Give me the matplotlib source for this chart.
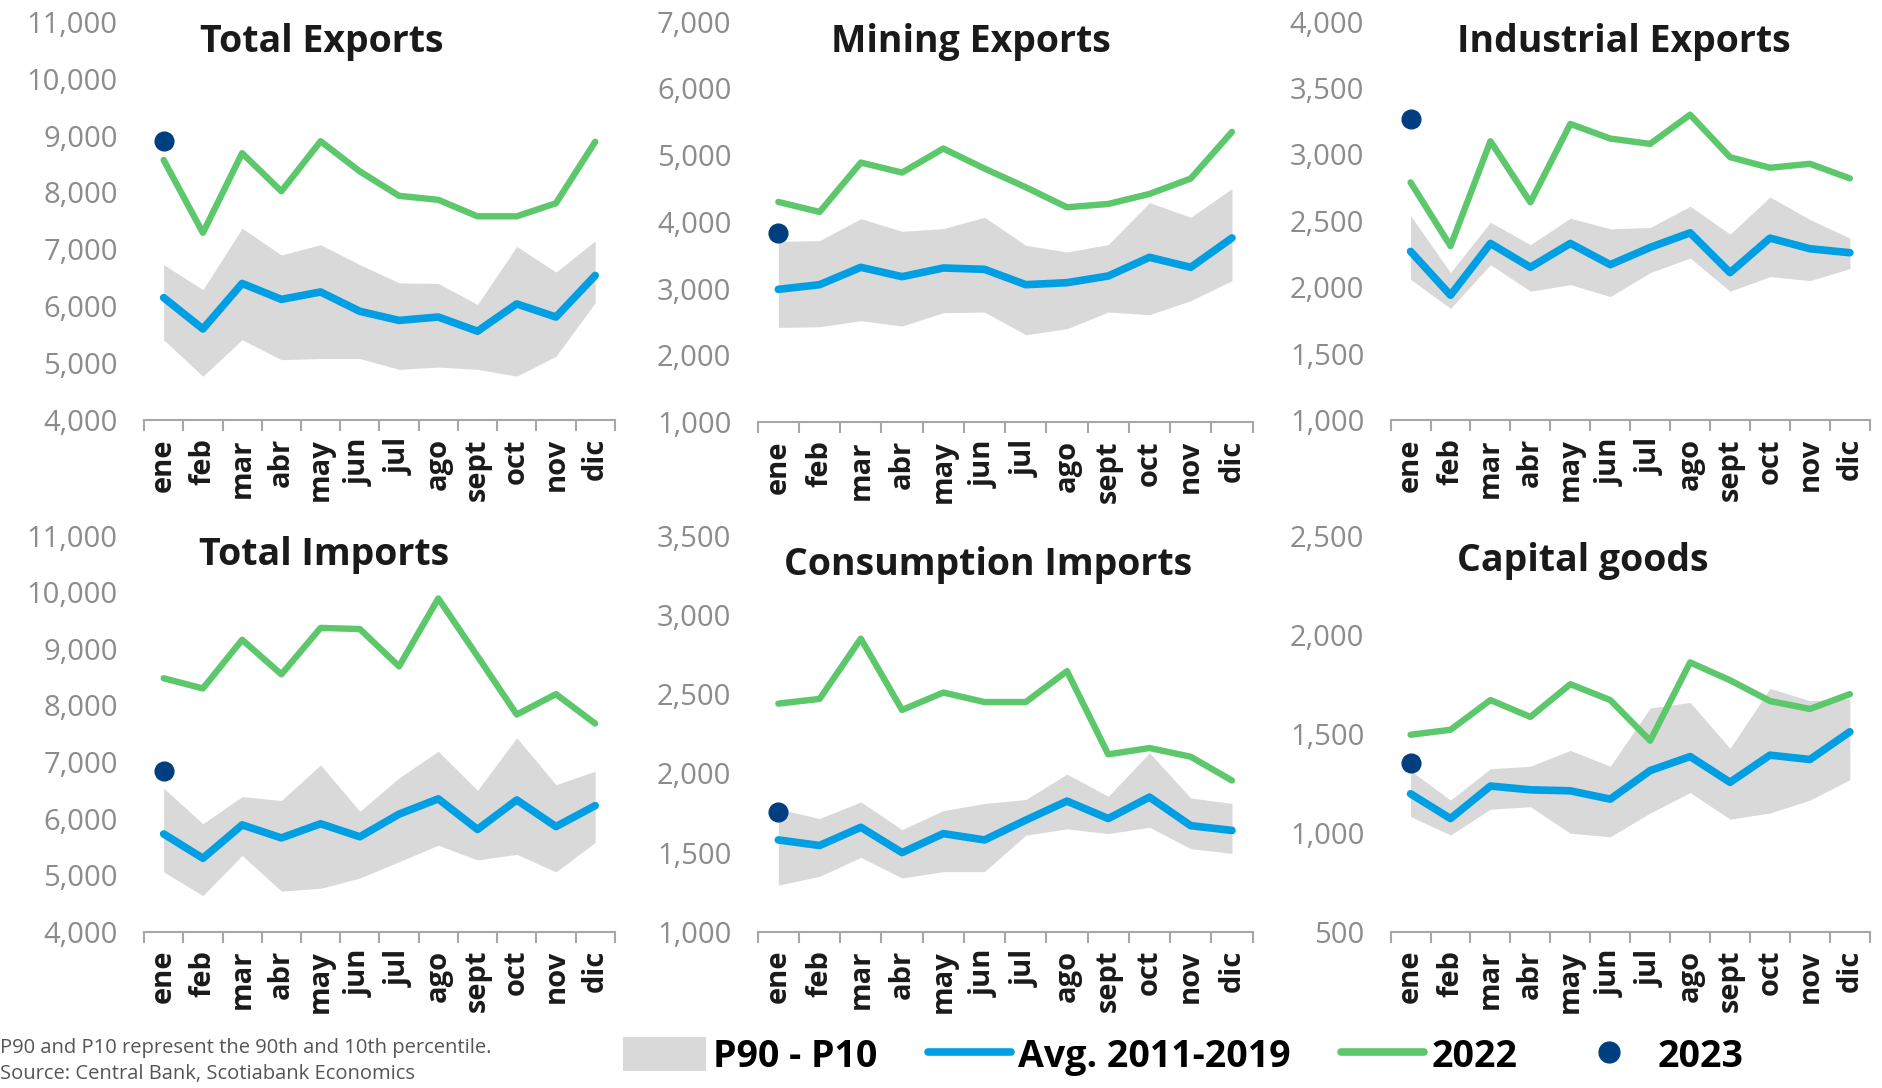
import matplotlib
matplotlib.use("Agg")
import matplotlib.pyplot as plt
from matplotlib.lines import Line2D
from matplotlib.patches import Patch

plt.rcParams['font.family'] = ['Open Sans', 'DejaVu Sans']

months = ['ene', 'feb', 'mar', 'abr', 'may', 'jun', 'jul', 'ago', 'sept', 'oct', 'nov', 'dic']

# Total Exports
tx_2022 = [8570, 7290, 8690, 8020, 8900, 8370, 7940, 7870, 7580, 7580, 7810, 8890]
tx_avg = [6150, 5600, 6400, 6120, 6250, 5910, 5750, 5810, 5560, 6040, 5810, 6540]
tx_p90 = [6730, 6290, 7370, 6900, 7080, 6730, 6410, 6400, 6030, 7050, 6600, 7150]
tx_p10 = [5410, 4770, 5410, 5060, 5080, 5080, 4890, 4930, 4890, 4770, 5120, 6060]
tx_2023 = 8900

# Mining Exports
mx_2022 = [4300, 4150, 4890, 4740, 5100, 4800, 4520, 4220, 4270, 4420, 4650, 5350]
mx_avg = [2990, 3060, 3320, 3180, 3310, 3290, 3060, 3090, 3190, 3470, 3320, 3760]
mx_p90 = [3710, 3720, 4050, 3860, 3900, 4070, 3650, 3550, 3660, 4290, 4070, 4500]
mx_p10 = [2420, 2430, 2520, 2440, 2640, 2650, 2310, 2400, 2650, 2610, 2820, 3120]
mx_2023 = 3840

# Industrial Exports
ix_2022 = [2790, 2310, 3100, 2640, 3230, 3120, 3080, 3300, 2980, 2900, 2930, 2820]
ix_avg = [2270, 1940, 2330, 2150, 2330, 2170, 2300, 2410, 2110, 2370, 2290, 2260]
ix_p90 = [2540, 2110, 2490, 2320, 2520, 2440, 2450, 2610, 2400, 2680, 2510, 2370]
ix_p10 = [2060, 1840, 2170, 1970, 2020, 1930, 2110, 2220, 1970, 2080, 2050, 2140]
ix_2023 = 3265

# Total Imports
tm_2022 = [8480, 8300, 9160, 8550, 9370, 9350, 8690, 9890, 8870, 7840, 8200, 7680]
tm_avg = [5730, 5300, 5890, 5660, 5910, 5680, 6080, 6350, 5810, 6330, 5860, 6230]
tm_p90 = [6540, 5910, 6390, 6320, 6950, 6130, 6720, 7190, 6500, 7430, 6600, 6840]
tm_p10 = [5060, 4640, 5350, 4720, 4770, 4950, 5240, 5530, 5270, 5370, 5060, 5580]
tm_2023 = 6850

# Consumption Imports
cm_2022 = [2440, 2470, 2850, 2400, 2510, 2450, 2450, 2645, 2120, 2160, 2105, 1955]
cm_avg = [1580, 1545, 1660, 1500, 1620, 1580, 1705, 1825, 1715, 1850, 1670, 1640]
cm_p90 = [1775, 1715, 1820, 1645, 1765, 1810, 1835, 1995, 1855, 2130, 1845, 1810]
cm_p10 = [1295, 1350, 1470, 1340, 1380, 1380, 1610, 1650, 1620, 1660, 1525, 1495]
cm_2023 = 1757

# Capital goods
kg_2022 = [1495, 1520, 1670, 1585, 1750, 1670, 1465, 1860, 1770, 1665, 1625, 1700]
kg_avg = [1197, 1072, 1236, 1217, 1212, 1170, 1314, 1385, 1255, 1392, 1370, 1510]
kg_p90 = [1314, 1165, 1323, 1336, 1416, 1336, 1630, 1658, 1426, 1729, 1667, 1677]
kg_p10 = [1082, 989, 1119, 1132, 998, 980, 1100, 1203, 1069, 1100, 1165, 1268]
kg_2023 = 1351

GREEN = '#5CC86B'
BLUE = '#009FE3'
BAND = '#D9D9D9'
NAVY = '#003F7F'
TICKGRAY = '#8C8C8C'

panels = [
    ('Total Exports', tx_2022, tx_avg, tx_p90, tx_p10, tx_2023, (4000, 11000, 1000), [0.0765, 0.614, 0.250, 0.366], (0.378, 0.949)),
    ('Mining Exports', mx_2022, mx_avg, mx_p90, mx_p10, mx_2023, (1000, 7000, 1000), [0.4024, 0.612, 0.2628, 0.368], (0.43, 0.949)),
    ('Industrial Exports', ix_2022, ix_avg, ix_p90, ix_p10, ix_2023, (1000, 4000, 500), [0.7385, 0.614, 0.2545, 0.366], (0.486, 0.949)),
    ('Total Imports', tm_2022, tm_avg, tm_p90, tm_p10, tm_2023, (4000, 11000, 1000), [0.0765, 0.1435, 0.250, 0.3642], (0.383, 0.952)),
    ('Consumption Imports', cm_2022, cm_avg, cm_p90, cm_p10, cm_2023, (1000, 3500, 500), [0.4024, 0.1435, 0.2628, 0.3642], (0.466, 0.927)),
    ('Capital goods', kg_2022, kg_avg, kg_p90, kg_p10, kg_2023, (500, 2500, 500), [0.7385, 0.1435, 0.2545, 0.3642], (0.401, 0.936)),
]

fig = plt.figure(figsize=(18.83, 10.88), dpi=100)
x = [i + 0.5 for i in range(12)]

for title, y22, avg, p90, p10, y23, (lo, hi, step), rect, tpos in panels:
    ax = fig.add_axes(rect)
    ax.fill_between(x, p10, p90, color=BAND, lw=0, zorder=1)
    ax.plot(x, avg, color=BLUE, lw=5.5, solid_capstyle='round', zorder=3)
    ax.plot(x, y22, color=GREEN, lw=4.6, solid_capstyle='round', zorder=3)
    ax.plot([x[0]], [y23], 'o', color=NAVY, ms=13.5, zorder=4)
    ax.set_xlim(0, 12)
    ax.set_ylim(lo, hi)
    ticks = list(range(lo, hi + 1, step))
    ax.set_yticks(ticks)
    ax.set_yticklabels([f'{t:,}' for t in ticks], color=TICKGRAY, fontsize=21)
    ax.tick_params(axis='y', length=0, pad=19)
    ax.set_xticks(range(13))
    ax.set_xticklabels([])
    ax.set_xticks(x, minor=True)
    ax.set_xticklabels(months, minor=True, rotation=90, fontsize=21, fontweight='bold', color='#1a1a1a')
    ax.tick_params(axis='x', which='major', length=8, width=1.5, color='#A6A6A6', direction='out')
    ax.tick_params(axis='x', which='minor', length=0, pad=13)
    for s in ['top', 'right', 'left']:
        ax.spines[s].set_visible(False)
    ax.spines['bottom'].set_color('#A6A6A6')
    ax.spines['bottom'].set_linewidth(1.5)
    ax.set_facecolor('none')
    ax.text(tpos[0], tpos[1], title, transform=ax.transAxes, ha='center', va='center',
            fontsize=27, fontweight='bold', color='#1a1a1a')

handles = [
    Patch(facecolor=BAND, edgecolor='none', label='P90 - P10'),
    Line2D([], [], color=BLUE, lw=5.5, solid_capstyle='round', label='Avg. 2011-2019'),
    Line2D([], [], color=GREEN, lw=5.5, solid_capstyle='round', label='2022'),
    Line2D([], [], color=NAVY, marker='o', ms=15, lw=0, label='2023'),
]
fig.legend(handles=handles, loc='center left', bbox_to_anchor=(0.313, 0.029), ncol=4, frameon=False,
           prop={'size': 27, 'weight': 'bold'}, handlelength=2.2, handleheight=1.0,
           handletextpad=0.2, columnspacing=1.35)

fig.text(0.0, 0.037, 'P90 and P10 represent the 90th and 10th percentile.', fontsize=14.5,
         color='#555555', ha='left', va='center')
fig.text(0.0, 0.013, 'Source: Central Bank, Scotiabank Economics', fontsize=14.5,
         color='#555555', ha='left', va='center')

fig.savefig('out.png', dpi=100, facecolor='white')
